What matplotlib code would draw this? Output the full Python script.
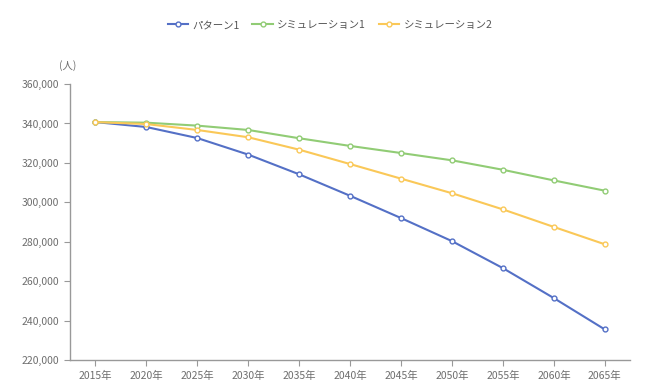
import matplotlib
matplotlib.use('Agg')
import matplotlib.pyplot as plt
from matplotlib.ticker import FuncFormatter

plt.rcParams['font.family'] = ['Noto Sans CJK JP', 'DejaVu Sans']

# Data
years = ['2015年', '2020年', '2025年', '2030年', '2035年', '2040年',
         '2045年', '2050年', '2055年', '2060年', '2065年']
pattern1 = [340700, 338200, 332600, 324200, 314200, 303300,
            292000, 280300, 266600, 251400, 235500]
sim1 = [340700, 340400, 338900, 336700, 332500, 328600,
        325000, 321300, 316500, 311100, 305900]
sim2 = [340700, 339700, 336700, 333000, 326700, 319400,
        312000, 304600, 296400, 287500, 278700]

series_names = ['パターン1', 'シミュレーション1', 'シミュレーション2']
colors = ['#5470c6', '#91cc75', '#fac858']

fig = plt.figure(figsize=(6.6, 3.92), dpi=100)
ax = fig.add_axes([0.106, 0.0816, 0.849, 0.704])

x = list(range(len(years)))
for vals, name, c in zip([pattern1, sim1, sim2], series_names, colors):
    ax.plot(x, vals, color=c, lw=1.5, marker='o', markersize=3.5,
            markerfacecolor='white', markeredgewidth=1.0, label=name)

ax.set_xlim(-0.5, len(years) - 0.5)
ax.set_ylim(220000, 360000)
ax.set_yticks(range(220000, 360001, 20000))
ax.yaxis.set_major_formatter(FuncFormatter(lambda v, p: f'{int(v):,}'))
ax.set_xticks(x)
ax.set_xticklabels(years)

for s in ['top', 'right']:
    ax.spines[s].set_visible(False)
for s in ['left', 'bottom']:
    ax.spines[s].set_color('#999999')
    ax.spines[s].set_linewidth(1.0)
ax.tick_params(colors='#999999', labelcolor='#6e6e6e', labelsize=7.5,
               length=4, width=0.8)
ax.tick_params(axis='x', pad=4)

fig.text(0.103, 0.832, '(人)', ha='center', va='center',
         fontsize=7.5, color='#6e6e6e')

fig.legend(loc='center', bbox_to_anchor=(0.5, 0.936), ncol=3, frameon=False,
           fontsize=7.5, handlelength=2.0, columnspacing=1.2,
           handletextpad=0.4, labelcolor='#555555')

fig.savefig('out.png', dpi=100)
